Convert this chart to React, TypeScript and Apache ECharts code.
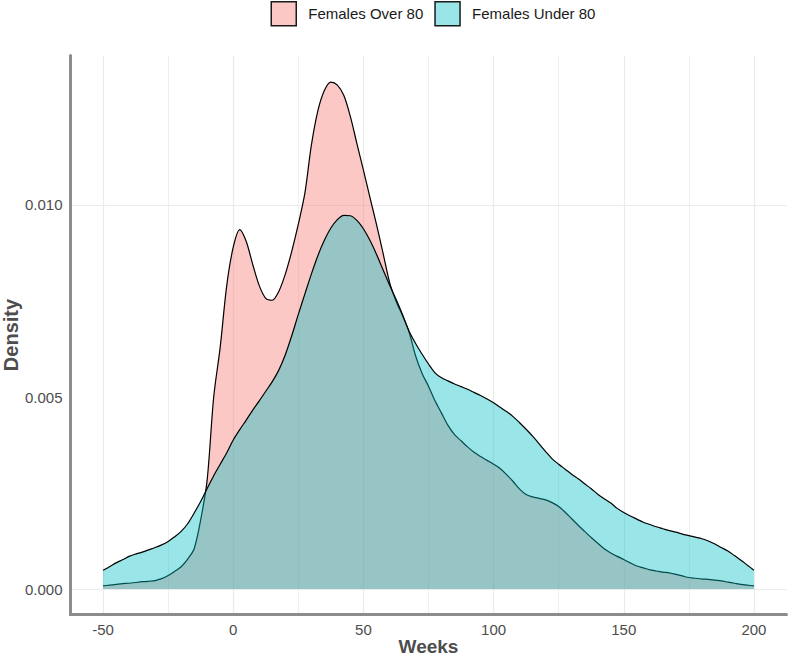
import React, { useEffect, useRef } from "react";
import * as echarts from "echarts";

const seriesNames = ["Females Over 80", "Females Under 80"];

const weeks = [
  -50, -47.5, -45, -42.5, -40, -37.5, -35, -32.5, -30, -27.5,
  -25, -22.5, -20, -17.5, -15, -12.5, -10, -7.5, -5, -2.5,
  0, 2.5, 5, 7.5, 10, 12.5, 15, 17.5, 20, 22.5,
  25, 27.5, 30, 32.5, 35, 37.5, 40, 42.5, 45, 47.5,
  50, 52.5, 55, 57.5, 60, 62.5, 65, 67.5, 70, 72.5,
  75, 77.5, 80, 82.5, 85, 87.5, 90, 92.5, 95, 97.5,
  100, 102.5, 105, 107.5, 110, 112.5, 115, 117.5, 120, 122.5,
  125, 127.5, 130, 132.5, 135, 137.5, 140, 142.5, 145, 147.5,
  150, 152.5, 155, 157.5, 160, 162.5, 165, 167.5, 170, 172.5,
  175, 177.5, 180, 182.5, 185, 187.5, 190, 192.5, 195, 197.5,
  200,
];

const over80 = [
  0.00008, 0.0001, 0.00012, 0.00014, 0.00015, 0.00017, 0.00019, 0.0002, 0.00022, 0.00027,
  0.00035, 0.00046, 0.00058, 0.00078, 0.00105, 0.0018, 0.00285, 0.005, 0.0063, 0.0079,
  0.0089, 0.00936, 0.00905, 0.00845, 0.0079, 0.00757, 0.00752, 0.00775, 0.0082, 0.0088,
  0.0095, 0.0103, 0.01155, 0.01245, 0.01298, 0.0132, 0.01312, 0.01285, 0.0123, 0.0116,
  0.01091, 0.0102, 0.0095, 0.00876, 0.008, 0.0075, 0.00712, 0.0067, 0.00608, 0.00562,
  0.00528, 0.0049, 0.00458, 0.00426, 0.00402, 0.00386, 0.0037, 0.00356, 0.00345, 0.00335,
  0.00325, 0.00314, 0.00298, 0.0028, 0.0026, 0.00246, 0.0024, 0.00236, 0.00232, 0.00225,
  0.00215, 0.002, 0.00183, 0.00166, 0.0015, 0.00134, 0.00119, 0.00105, 0.00094, 0.00085,
  0.00077, 0.00068, 0.0006, 0.00055, 0.0005, 0.00047, 0.00044, 0.00042, 0.00038, 0.00034,
  0.0003, 0.00028, 0.00026, 0.00025, 0.00023, 0.00021, 0.00018, 0.00015, 0.00012, 0.0001,
  0.00008,
];

const under80 = [
  0.00049, 0.00058, 0.00068, 0.00076, 0.00085, 0.00091, 0.00096, 0.00102, 0.00108, 0.00115,
  0.00124, 0.00136, 0.0015, 0.0017, 0.00198, 0.00228, 0.00262, 0.00295, 0.00325, 0.00355,
  0.00388, 0.00415, 0.0044, 0.00466, 0.0049, 0.00515, 0.0054, 0.0057, 0.0061, 0.0066,
  0.00715, 0.00768, 0.0082, 0.00868, 0.00908, 0.0094, 0.00962, 0.00973, 0.00972, 0.0096,
  0.00938, 0.00908, 0.00872, 0.00832, 0.00792, 0.00755, 0.00715, 0.00672, 0.0064, 0.00612,
  0.00586, 0.00563, 0.0055, 0.00542, 0.00534, 0.00527, 0.0052, 0.00512, 0.00504, 0.00495,
  0.00485, 0.00473, 0.00462, 0.00449, 0.00433, 0.00416, 0.00398, 0.00378, 0.00358, 0.00339,
  0.00325, 0.00312, 0.00299, 0.00287, 0.00274, 0.00261, 0.00247, 0.00235, 0.00224, 0.0021,
  0.00199, 0.0019, 0.00182, 0.00174, 0.00168, 0.00162, 0.00157, 0.00152, 0.00148, 0.00143,
  0.00139, 0.00135, 0.00131, 0.00125, 0.00117, 0.00108, 0.00099, 0.00087, 0.00075, 0.00062,
  0.00049,
];

const xTickValues = [-50, 0, 50, 100, 150, 200];
const xMinorGrid = [-25, 25, 75, 125, 175];
const yTickValues = [0, 0.005, 0.01];
const yMinorGrid = [0.0025, 0.0075, 0.0125];

export default function App() {
  const ref = useRef<HTMLDivElement>(null);

  useEffect(() => {
    if (!ref.current) return;
    const chart = echarts.init(ref.current, null, { renderer: "svg" });
    const font = "'Liberation Sans', Arial, Helvetica, sans-serif";
    const pinkFill = "rgba(248,118,109,0.4)";
    const cyanFill = "rgba(0,191,196,0.4)";
    const gridColor = "#ebebeb";
    const axisLineStyle = { color: "#8c8c8c", width: 3 };

    const gridLines: any[] = [];
    xTickValues.forEach((v) => gridLines.push({ xAxis: v, lineStyle: { color: gridColor, width: 1.2, type: "solid" } }));
    xMinorGrid.forEach((v) => gridLines.push({ xAxis: v, lineStyle: { color: gridColor, width: 0.8, type: "solid" } }));
    yTickValues.forEach((v) => gridLines.push({ yAxis: v, lineStyle: { color: gridColor, width: 1.2, type: "solid" } }));
    yMinorGrid.forEach((v) => gridLines.push({ yAxis: v, lineStyle: { color: gridColor, width: 0.8, type: "solid" } }));

    const option: any = {
      animation: false,
      textStyle: { fontFamily: font },
      legend: {
        left: 270.5,
        top: 1,
        padding: 0,
        orient: "horizontal",
        itemWidth: 25,
        itemHeight: 24,
        itemGap: 11,
        selectedMode: false,
        icon: "rect",
        data: [
          { name: seriesNames[0], icon: "rect", itemStyle: { color: pinkFill, borderColor: "#1a1a1a", borderWidth: 1.5 } },
          { name: seriesNames[1], icon: "rect", itemStyle: { color: cyanFill, borderColor: "#1a1a1a", borderWidth: 1.5 } },
        ],
        textStyle: { fontSize: 15, color: "#1a1a1a", fontFamily: font, padding: [0, 0, 0, 7] },
      },
      grid: { left: 70.5, right: 1.5, top: 55.6, bottom: 43.6, containLabel: false, outerBoundsMode: "none" },
      xAxis: {
        type: "value",
        min: -62.5,
        max: 212.5,
        axisLine: { show: true, onZero: false, lineStyle: axisLineStyle },
        axisTick: { show: false },
        splitLine: { show: false },
        axisLabel: {
          customValues: xTickValues,
          margin: 8,
          fontSize: 15,
          color: "#4d4d4d",
          fontFamily: font,
          formatter: (v: number) => String(v),
        },
        name: "Weeks",
        nameLocation: "middle",
        nameGap: 23,
        nameMoveOverlap: false,
        nameTextStyle: { fontSize: 19, fontWeight: "bold", color: "#4d4d4d", fontFamily: font, lineHeight: 19 },
      },
      yAxis: {
        type: "value",
        min: -0.000661,
        max: 0.01389,
        axisLine: { show: true, onZero: false, lineStyle: axisLineStyle },
        axisTick: { show: false },
        splitLine: { show: false },
        axisLabel: {
          customValues: yTickValues,
          margin: 8,
          fontSize: 15,
          color: "#4d4d4d",
          fontFamily: font,
          formatter: (v: number) => v.toFixed(3),
        },
        name: "Density",
        nameLocation: "middle",
        nameGap: 50,
        nameRotate: 90,
        nameMoveOverlap: false,
        nameTextStyle: { fontSize: 20, fontWeight: "bold", color: "#4d4d4d", fontFamily: font },
      },
      series: [
        {
          type: "line",
          name: "_grid",
          data: [[-50, 0]],
          symbol: "none",
          silent: true,
          z: 0,
          lineStyle: { opacity: 0 },
          markLine: {
            silent: true,
            z: 0,
            symbol: "none",
            label: { show: false },
            emphasis: { disabled: true },
            data: gridLines,
          },
        },
        {
          type: "line",
          name: seriesNames[0],
          data: weeks.map((w, i) => [w, over80[i]]),
          smooth: 0.3,
          symbol: "none",
          z: 2,
          lineStyle: { color: "#000", width: 1.2 },
          itemStyle: { color: pinkFill },
          areaStyle: { color: pinkFill, opacity: 1 },
        },
        {
          type: "line",
          name: seriesNames[1],
          data: weeks.map((w, i) => [w, under80[i]]),
          smooth: 0.3,
          symbol: "none",
          z: 3,
          lineStyle: { color: "#000", width: 1.2 },
          itemStyle: { color: cyanFill },
          areaStyle: { color: cyanFill, opacity: 1 },
        },
      ],
    };
    chart.setOption(option);
    return () => chart.dispose();
  }, []);

  return (
    <div
      ref={ref}
      style={{ position: "fixed", left: 0, top: 0, width: 788, height: 658, background: "#fff" }}
    />
  );
}
